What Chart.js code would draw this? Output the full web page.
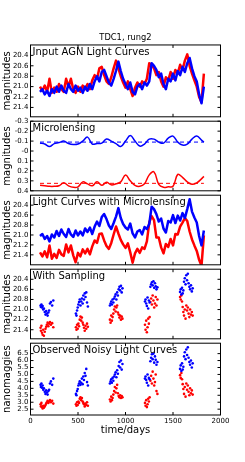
<!DOCTYPE html>
<html>
<head>
<meta charset="utf-8">
<script src="https://cdn.jsdelivr.net/npm/chart.js@4.4.1/dist/chart.umd.min.js"></script>
<style>
  html, body { margin: 0; padding: 0; background: #fff; }
  #wrap { position: relative; width: 245px; height: 462px; overflow: hidden; }
  #wrap canvas { position: absolute; left: 0; }
</style>
</head>
<body>
<div id="wrap">
  <canvas id="p1" width="245" height="103" style="top:20px"></canvas>
  <canvas id="p2" width="245" height="82" style="top:115px"></canvas>
  <canvas id="p3" width="245" height="82" style="top:189px"></canvas>
  <canvas id="p4" width="245" height="82" style="top:263px"></canvas>
  <canvas id="p5" width="245" height="103" style="top:337px"></canvas>
</div>
<script>
// ---- data ----
const lcDays = [100,125,150,175,200,225,250,275,300,325,350,375,400,425,450,475,500,525,550,575,
  600,625,650,675,700,725,750,775,800,825,850,875,900,925,950,975,1000,1025,1050,1075,
  1100,1125,1150,1175,1200,1225,1250,1275,1300,1325,1350,1375,1400,1425,1450,1475,1500,1525,1550,1575,
  1600,1625,1650,1675,1700,1725,1750,1775,1800,1825];

// Input AGN light curves (mag)
const inputBlue = [21.10,21.05,21.15,21.08,21.18,21.05,21.12,21.00,21.10,20.98,
  21.08,21.12,20.95,21.05,21.10,20.98,21.08,21.02,21.12,21.00,
  21.08,20.95,21.05,20.90,20.80,20.90,20.72,20.68,20.80,20.92,
  20.98,20.85,20.70,20.52,20.70,20.85,20.95,21.05,20.92,21.10,
  21.15,21.00,20.95,21.05,20.92,20.98,20.90,20.55,20.60,20.68,
  20.82,20.75,20.95,21.05,20.85,20.90,20.75,20.88,20.70,20.78,
  20.62,20.72,20.55,20.45,20.65,20.80,20.90,21.15,21.32,21.00];
const inputRed = [21.00,21.08,20.98,21.10,20.85,21.12,21.02,21.10,20.95,21.05,
  21.10,20.85,21.00,20.85,21.05,21.12,21.00,21.10,20.98,21.05,
  20.95,21.05,20.88,20.78,20.85,20.65,20.62,20.78,20.90,20.95,
  20.82,20.65,20.50,20.65,20.80,20.92,21.02,20.90,21.05,21.18,
  21.02,20.92,21.00,20.90,20.95,20.85,20.55,20.58,20.65,20.78,
  20.72,20.90,21.00,20.82,20.88,20.72,20.85,20.68,20.75,20.58,
  20.68,20.50,20.38,20.60,20.75,20.88,21.00,21.20,21.30,20.75];

// Microlensing (mag)
const mlDays = [100,150,200,250,300,350,400,450,500,550,600,650,700,750,800,850,900,950,
  1000,1050,1100,1150,1200,1250,1300,1350,1400,1450,1500,1550,1600,1650,1700,1750,1800,1825];
const mlBlue = [-0.08,-0.07,-0.045,-0.075,-0.085,-0.10,-0.075,-0.065,-0.07,-0.10,-0.14,-0.07,
  -0.075,-0.08,-0.12,-0.10,-0.075,-0.045,-0.10,-0.155,-0.10,-0.05,-0.07,-0.12,
  -0.12,-0.09,-0.08,-0.13,-0.15,-0.09,-0.06,-0.07,-0.12,-0.15,-0.11,-0.09];
const mlRed = [0.345,0.35,0.355,0.355,0.35,0.32,0.35,0.365,0.36,0.31,0.33,0.35,
  0.31,0.345,0.315,0.34,0.33,0.31,0.24,0.30,0.345,0.355,0.33,0.24,
  0.21,0.335,0.365,0.36,0.355,0.235,0.265,0.31,0.335,0.32,0.28,0.255];
const mlMeanBlue = -0.09;
const mlMeanRed = 0.325;
const mlSpan = [100, 1825];

// Light curves with microlensing (mag)
const lensedBlue = [21.02,20.98,21.08,21.02,21.13,20.99,21.05,20.92,21.02,20.89,
  20.98,21.04,20.88,20.99,21.04,20.91,21.01,20.93,21.01,20.87,
  20.94,20.85,20.98,20.83,20.73,20.82,20.64,20.58,20.68,20.81,
  20.88,20.76,20.63,20.46,20.66,20.78,20.85,20.89,20.77,20.97,
  21.05,20.93,20.90,20.99,20.84,20.88,20.78,20.43,20.48,20.58,
  20.73,20.67,20.87,20.95,20.72,20.75,20.60,20.76,20.61,20.71,
  20.56,20.66,20.48,20.28,20.53,20.65,20.75,21.02,21.21,20.91];
const lensedRed = [21.35,21.43,21.33,21.45,21.21,21.48,21.38,21.46,21.30,21.39,
  21.42,21.19,21.35,21.21,21.41,21.55,21.36,21.43,21.29,21.37,
  21.28,21.39,21.23,21.11,21.16,20.98,20.97,21.11,21.22,21.28,
  21.16,20.99,20.83,20.97,21.10,21.19,21.26,21.17,21.35,21.56,
  21.37,21.28,21.36,21.25,21.28,21.13,20.75,20.62,20.70,21.05,
  21.05,21.25,21.37,21.18,21.24,21.08,21.21,20.98,20.99,20.83,
  20.75,20.66,20.72,20.93,21.09,21.21,21.32,21.50,21.62,21.01];

// Sampled epochs (5 seasons)
const sampleDays = [106,110,115,121,128,134,141,150,158,165,172,180,188,196,205,215,228,240,
  478,484,490,497,504,511,518,526,534,541,549,556,563,571,579,587,595,604,
  836,843,850,857,864,872,880,888,896,904,912,920,928,936,944,952,960,968,
  1205,1211,1218,1225,1232,1239,1246,1254,1262,1270,1278,1286,1294,1302,1310,1318,1326,1336,
  1574,1581,1588,1595,1602,1609,1616,1624,1632,1640,1648,1656,1664,1672,1680,1689,1698,1707];
const sampledBlue = [20.92,20.95,20.90,20.96,20.93,21.00,20.98,21.05,21.10,21.03,21.08,21.12,21.06,21.02,20.88,20.85,20.92,20.82,
  21.08,21.12,21.02,20.96,20.90,20.85,20.80,20.92,20.84,20.78,20.88,20.72,20.80,20.68,20.75,20.66,20.86,20.94,
  20.92,20.88,20.84,20.90,20.80,20.86,20.78,20.74,20.70,20.80,20.66,20.72,20.60,20.55,20.62,20.53,20.66,20.58,
  20.84,20.80,20.88,20.93,20.76,20.98,20.82,20.86,20.55,20.50,20.46,20.52,20.44,20.57,20.48,20.54,20.60,20.56,
  20.65,20.60,20.70,20.57,20.68,20.62,20.45,20.38,20.50,20.32,20.42,20.29,20.48,20.55,20.60,20.52,20.64,20.58];
const sampledRed = [21.36,21.42,21.32,21.46,21.50,21.40,21.52,21.44,21.38,21.34,21.30,21.26,21.33,21.28,21.25,21.30,21.27,21.35,
  21.35,21.40,21.30,21.38,21.28,21.33,21.20,21.14,21.22,21.16,21.26,21.30,21.36,21.42,21.32,21.38,21.28,21.34,
  21.20,21.26,21.12,21.22,21.15,21.08,21.00,20.94,21.04,20.96,20.92,21.06,21.10,21.16,21.12,21.20,21.14,21.18,
  21.30,21.40,21.22,21.45,21.35,21.18,21.28,21.15,20.85,20.78,20.90,20.72,20.82,20.96,20.88,20.75,20.92,20.80,
  20.75,20.80,20.72,20.84,20.95,21.05,21.12,21.00,21.18,20.92,21.02,20.96,21.08,21.15,21.00,21.10,21.05,21.12];

// Observed noisy fluxes (nanomaggies)
const fluxBlue = [4.25,4.10,4.35,4.05,4.20,3.90,4.00,3.75,3.60,3.85,3.70,3.55,3.80,3.90,4.35,4.50,4.25,4.70,
  3.60,3.50,3.80,3.95,4.20,4.35,4.50,4.25,4.40,4.70,4.30,4.85,4.60,5.10,4.90,5.40,4.45,4.20,
  4.35,4.50,4.65,4.40,4.75,4.55,4.85,5.00,5.15,4.80,5.30,5.05,5.60,5.90,5.50,6.00,5.35,5.75,
  4.70,4.85,4.60,4.40,5.00,4.20,4.75,4.65,5.95,6.20,6.45,6.10,6.50,5.85,6.30,6.05,5.70,5.90,
  5.40,5.65,5.25,5.80,5.35,5.55,6.30,6.60,6.10,6.80,6.40,6.95,6.20,5.90,5.70,6.00,5.50,5.80];
const fluxRed = [2.85,2.70,2.95,2.65,2.55,2.75,2.60,2.70,2.80,2.90,3.00,3.10,2.95,3.05,3.15,3.00,3.10,2.90,
  2.85,2.75,3.00,2.80,3.05,2.95,3.25,3.35,3.15,3.30,3.05,2.95,2.85,2.70,2.90,2.80,3.00,2.75,
  3.20,3.05,3.40,3.15,3.30,3.55,3.80,4.10,3.70,4.00,4.25,3.65,3.45,3.35,3.50,3.30,3.45,3.35,
  2.95,2.75,3.15,2.65,2.85,3.25,3.05,3.35,4.55,4.90,4.35,5.20,4.70,4.20,4.45,5.00,3.80,3.60,
  4.95,4.75,5.10,4.65,4.30,3.95,3.60,4.10,3.40,4.35,3.90,4.20,3.75,3.50,4.00,3.65,3.85,3.55];

// axes
const xTicks = [0, 500, 1000, 1500, 2000];
const magTicks = [20.4, 20.6, 20.8, 21.0, 21.2, 21.4];
const mlTicks = [-0.3, -0.2, -0.1, 0, 0.1, 0.2, 0.3, 0.4];
const mlTickLabels = ['-0.3', '-0.2', '-0.1', '-0', '0.1', '0.2', '0.3', '0.4'];
const fluxTicks = [2.5, 3.0, 3.5, 4.0, 4.5, 5.0, 5.5, 6.0, 6.5];

const RED = '#ff0000';
const BLUE = '#0000ff';

Chart.defaults.font.family = '"DejaVu Sans", sans-serif';
Chart.defaults.color = '#000';
Chart.defaults.animation = false;

function pairs(xs, ys) {
  return xs.map((x, i) => ({x: x, y: ys[i]}));
}

// frame, inward ticks and panel label
const panelDeco = {
  id: 'panelDeco',
  afterDatasetsDraw(chart, args, opts) {
    const {ctx, chartArea: a} = chart;
    const x = chart.scales.x, y = chart.scales.y;
    ctx.save();
    ctx.strokeStyle = '#000';
    ctx.lineWidth = 1;
    ctx.strokeRect(a.left, a.top, a.right - a.left, a.bottom - a.top);
    ctx.beginPath();
    xTicks.forEach(v => {
      const px = x.getPixelForValue(v);
      ctx.moveTo(px, a.top); ctx.lineTo(px, a.top + 3);
      ctx.moveTo(px, a.bottom); ctx.lineTo(px, a.bottom - 3);
    });
    y.ticks.forEach(t => {
      const py = y.getPixelForValue(t.value);
      ctx.moveTo(a.left, py); ctx.lineTo(a.left + 3, py);
      ctx.moveTo(a.right, py); ctx.lineTo(a.right - 3, py);
    });
    ctx.stroke();
    ctx.fillStyle = '#000';
    ctx.font = '10px "DejaVu Sans"';
    ctx.textBaseline = 'alphabetic';
    ctx.fillText(opts.label, a.left + 2, a.top + 10);
    ctx.restore();
  }
};

function yAxis(min, max, reverse, ticks, labels, title) {
  return {
    type: 'linear', min: min, max: max, reverse: reverse,
    afterFit: s => { s.width = 30.5; },
    afterBuildTicks: s => { s.ticks = ticks.map(v => ({value: v})); },
    grid: {display: false, drawTicks: false},
    border: {display: false},
    ticks: {
      font: {size: 7}, padding: 2, autoSkip: false,
      callback: (v) => labels ? labels[ticks.indexOf(v)] : v.toFixed(1)
    },
    title: {display: true, text: title, font: {size: 10}, padding: {top: 1, bottom: 0}}
  };
}

function xHidden() {
  return {type: 'linear', min: 0, max: 2000, display: false};
}

function makePanel(id, cfg) {
  return new Chart(document.getElementById(id), {
    type: cfg.type || 'line',
    data: {datasets: cfg.datasets},
    options: {
      responsive: false,
      layout: {padding: Object.assign({left: 0, right: 24.5, top: 4, bottom: 4}, cfg.padding || {})},
      plugins: Object.assign({
        legend: {display: false},
        tooltip: {enabled: false},
        panelDeco: {label: cfg.label}
      }, cfg.plugins || {}),
      scales: {x: cfg.x || xHidden(), y: cfg.y}
    },
    plugins: [panelDeco]
  });
}

function lineSet(xs, ys, color, width, extra) {
  return Object.assign({
    data: pairs(xs, ys), borderColor: color, borderWidth: width,
    pointRadius: 0, tension: 0, fill: false, borderJoinStyle: 'round'
  }, extra || {});
}

function dotSet(xs, ys, color) {
  return {
    type: 'scatter', data: pairs(xs, ys), backgroundColor: color,
    borderWidth: 0, pointRadius: 1.3, pointStyle: 'circle'
  };
}

// Panel 1
makePanel('p1', {
  label: 'Input AGN Light Curves',
  padding: {top: 0},
  plugins: {
    title: {display: true, text: 'TDC1, rung2', fullSize: false,
      font: {size: 8.3, weight: 'normal'}, padding: {top: 13, bottom: 2}}
  },
  datasets: [
    lineSet(lcDays, inputBlue, BLUE, 2.5),
    lineSet(lcDays, inputRed, RED, 2.5)
  ],
  y: yAxis(20.2, 21.58, true, magTicks, null, 'magnitudes')
});

// Panel 2
makePanel('p2', {
  label: 'Microlensing',
  datasets: [
    lineSet(mlDays, mlBlue, BLUE, 1.5, {tension: 0.4}),
    lineSet(mlSpan, [mlMeanBlue, mlMeanBlue], BLUE, 1, {borderDash: [4, 3]}),
    lineSet(mlDays, mlRed, RED, 1.5, {tension: 0.4}),
    lineSet(mlSpan, [mlMeanRed, mlMeanRed], RED, 1, {borderDash: [4, 3]})
  ],
  y: yAxis(-0.3, 0.4, true, mlTicks, mlTickLabels, 'magnitudes')
});

// Panel 3
makePanel('p3', {
  label: 'Light Curves with Microlensing',
  datasets: [
    lineSet(lcDays, lensedBlue, BLUE, 2.5),
    lineSet(lcDays, lensedRed, RED, 2.5)
  ],
  y: yAxis(20.2, 21.6, true, magTicks, null, 'magnitudes')
});

// Panel 4
makePanel('p4', {
  type: 'scatter',
  label: 'With Sampling',
  datasets: [
    dotSet(sampleDays, sampledBlue, BLUE),
    dotSet(sampleDays, sampledRed, RED)
  ],
  y: yAxis(20.2, 21.58, true, magTicks, null, 'magnitudes')
});

// Panel 5
makePanel('p5', {
  type: 'scatter',
  label: 'Observed Noisy Light Curves',
  padding: {bottom: 0},
  datasets: [
    dotSet(sampleDays, fluxBlue, BLUE),
    dotSet(sampleDays, fluxRed, RED)
  ],
  x: {
    type: 'linear', min: 0, max: 2000,
    afterFit: s => { s.height = 25; },
    afterBuildTicks: s => { s.ticks = xTicks.map(v => ({value: v})); },
    grid: {display: false, drawTicks: false},
    border: {display: false},
    ticks: {font: {size: 7}, padding: 2, maxRotation: 0, autoSkip: false,
      callback: v => String(v)},
    title: {display: true, text: 'time/days', font: {size: 10}, padding: {top: 0, bottom: 4}}
  },
  y: yAxis(2.08, 7.25, false, fluxTicks, null, 'nanomaggies')
});
</script>
</body>
</html>
